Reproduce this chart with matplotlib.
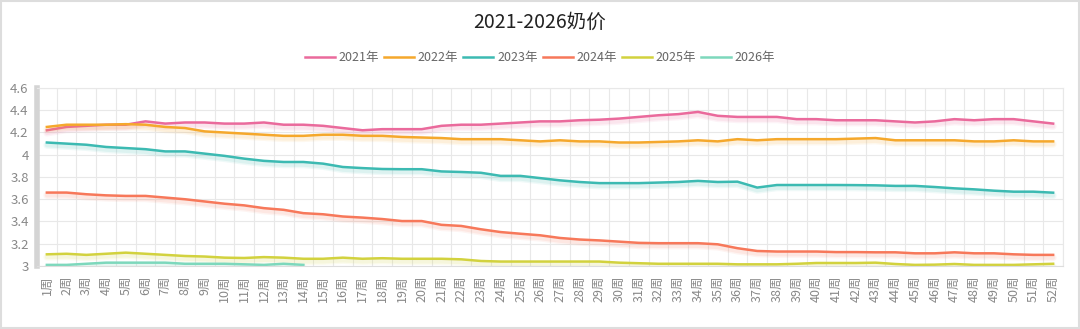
import numpy as np
import matplotlib
matplotlib.use('Agg')
import matplotlib.pyplot as plt
from matplotlib.transforms import ScaledTranslation
from matplotlib.patches import Rectangle

plt.rcParams['font.family'] = ['Noto Sans CJK SC', 'DejaVu Sans']

# 周次
weeks = [f'{i}周' for i in range(1, 53)]

y2021 = [4.22, 4.25, 4.26, 4.27, 4.27, 4.30, 4.28, 4.29, 4.29, 4.28,
         4.28, 4.29, 4.27, 4.27, 4.26, 4.24, 4.22, 4.23, 4.23, 4.23,
         4.26, 4.27, 4.27, 4.28, 4.29, 4.30, 4.30, 4.31, 4.315, 4.325,
         4.34, 4.355, 4.365, 4.385, 4.35, 4.34, 4.34, 4.34, 4.32, 4.32,
         4.31, 4.31, 4.31, 4.30, 4.29, 4.30, 4.32, 4.31, 4.32, 4.32,
         4.30, 4.28]
y2022 = [4.25, 4.27, 4.27, 4.27, 4.275, 4.27, 4.25, 4.24, 4.21, 4.20,
         4.19, 4.18, 4.17, 4.17, 4.18, 4.18, 4.17, 4.17, 4.16, 4.155,
         4.15, 4.14, 4.14, 4.14, 4.13, 4.12, 4.13, 4.12, 4.12, 4.11,
         4.11, 4.115, 4.12, 4.13, 4.12, 4.14, 4.13, 4.14, 4.14, 4.14,
         4.14, 4.145, 4.15, 4.13, 4.13, 4.13, 4.13, 4.12, 4.12, 4.13,
         4.12, 4.12]
y2023 = [4.11, 4.10, 4.09, 4.07, 4.06, 4.05, 4.03, 4.03, 4.01, 3.99,
         3.965, 3.945, 3.935, 3.935, 3.92, 3.89, 3.88, 3.872, 3.87, 3.87,
         3.85, 3.845, 3.838, 3.81, 3.81, 3.79, 3.77, 3.755, 3.745, 3.745,
         3.745, 3.75, 3.755, 3.765, 3.755, 3.758, 3.705, 3.728, 3.728, 3.728,
         3.728, 3.727, 3.725, 3.72, 3.72, 3.71, 3.698, 3.689, 3.677, 3.668,
         3.668, 3.659]
y2024 = [3.66, 3.66, 3.645, 3.635, 3.63, 3.63, 3.615, 3.60, 3.58, 3.56,
         3.545, 3.52, 3.505, 3.475, 3.465, 3.445, 3.435, 3.422, 3.404, 3.404,
         3.37, 3.36, 3.33, 3.305, 3.29, 3.276, 3.252, 3.238, 3.23, 3.219,
         3.208, 3.205, 3.205, 3.205, 3.195, 3.16, 3.135, 3.13, 3.13, 3.13,
         3.125, 3.125, 3.123, 3.123, 3.114, 3.114, 3.123, 3.114, 3.114, 3.105,
         3.10, 3.10]
y2025 = [3.105, 3.11, 3.10, 3.11, 3.12, 3.11, 3.10, 3.09, 3.085, 3.075,
         3.072, 3.08, 3.075, 3.065, 3.065, 3.075, 3.065, 3.07, 3.065, 3.065,
         3.065, 3.06, 3.045, 3.04, 3.04, 3.04, 3.04, 3.04, 3.04, 3.03,
         3.025, 3.02, 3.02, 3.02, 3.02, 3.015, 3.015, 3.015, 3.02, 3.027,
         3.027, 3.027, 3.03, 3.018, 3.01, 3.012, 3.018, 3.01, 3.01, 3.01,
         3.015, 3.02]
y2026 = [3.01, 3.01, 3.02, 3.03, 3.03, 3.03, 3.03, 3.02, 3.02, 3.02,
         3.015, 3.01, 3.02, 3.01]

series = [('2021年', y2021, '#ea6a9c'),
          ('2022年', y2022, '#f5a82c'),
          ('2023年', y2023, '#3cbab2'),
          ('2024年', y2024, '#f7785a'),
          ('2025年', y2025, '#d2d23e'),
          ('2026年', y2026, '#7dd8bc')]

fig = plt.figure(figsize=(10.8, 3.29), dpi=100)
ax = fig.add_axes([37 / 1080, 1 - 266 / 329, 1026 / 1080, 178 / 329])

# 线下的柔和阴影
shift = ax.transData + ScaledTranslation(0, -2 / 72, fig.dpi_scale_trans)
for name, vals, c in series:
    xs = np.arange(len(vals))
    ax.plot(xs, vals, color=c, lw=5, alpha=0.08, transform=shift,
            solid_capstyle='round')
    ax.plot(xs, vals, color=c, lw=3, alpha=0.10, transform=shift,
            solid_capstyle='round')
    ax.plot(xs, vals, color=c, lw=1.8, label=name, solid_joinstyle='round')

ax.set_xlim(-0.5, 51.5)
ax.set_ylim(3, 4.6)
ax.set_yticks(np.arange(3, 4.61, 0.2))
ax.set_yticklabels(['3', '3.2', '3.4', '3.6', '3.8', '4', '4.2', '4.4', '4.6'])
ax.set_xticks(np.arange(52))
ax.set_xticklabels(weeks, rotation=90, ha='center', va='top')
ax.set_xticks(np.arange(-0.5, 52, 1), minor=True)
ax.grid(which='minor', axis='x', color='#e8e8e8', lw=0.8)
ax.grid(which='major', axis='y', color='#e8e8e8', lw=0.8)
ax.set_axisbelow(True)
ax.tick_params(which='both', length=0)
ax.tick_params(axis='y', labelsize=9.5, labelcolor='#888888', pad=6)
ax.tick_params(axis='x', labelsize=9, labelcolor='#888888', pad=7)

for s in ['top', 'right']:
    ax.spines[s].set_color('#e8e8e8')
    ax.spines[s].set_linewidth(0.8)
ax.spines['bottom'].set_color('#dddddd')
ax.spines['left'].set_color('#d4d4d4')
ax.spines['left'].set_linewidth(4)

fig.text(0.5, 1 - 22 / 329, '2021-2026奶价', ha='center', va='center',
         fontsize=14, color='#222222')
fig.legend(loc='center', bbox_to_anchor=(0.5, 1 - 58 / 329), ncol=6,
           frameon=False, fontsize=9, labelcolor='#666666', handlelength=2.4,
           handletextpad=0.3, columnspacing=0.4)

fig.patches.append(Rectangle((0.001, 0.002), 0.998, 0.996, transform=fig.transFigure,
                             fill=False, ec='#dddddd', lw=1.5))

fig.savefig('out.png', dpi=100)
